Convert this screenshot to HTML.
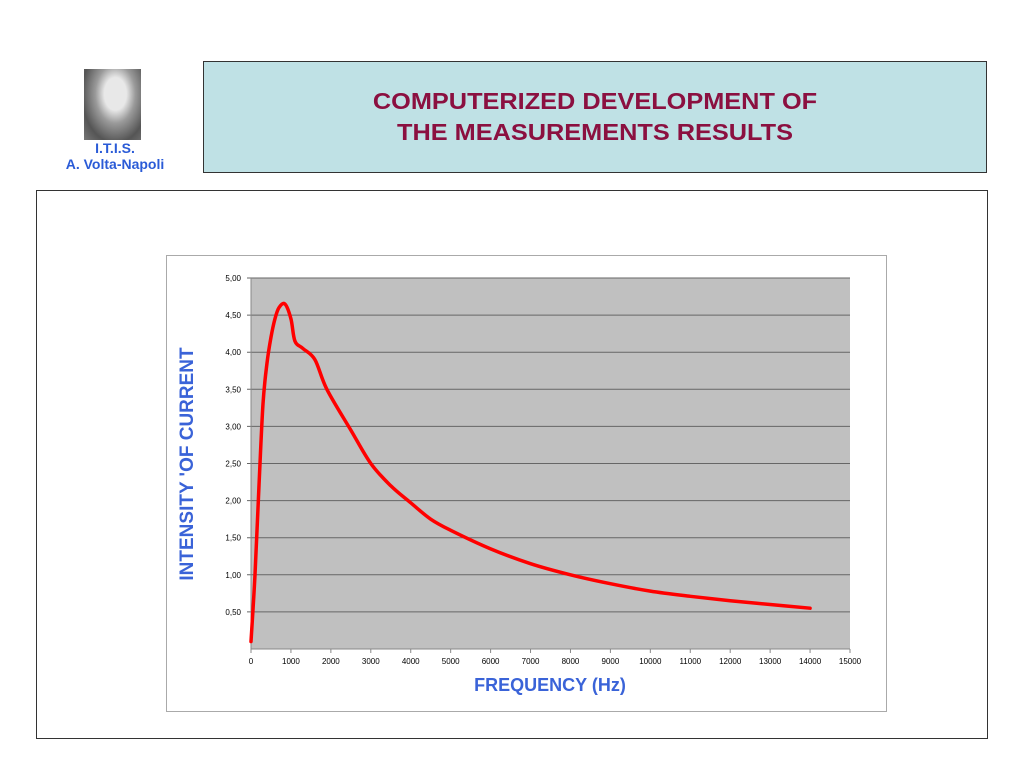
<!DOCTYPE html>
<html><head><meta charset="utf-8"><style>
body{margin:0;width:1024px;height:768px;background:#fff;position:relative;font-family:"Liberation Sans",Arial,sans-serif;overflow:hidden}
.abs{position:absolute}
</style></head><body>
<div class="abs" style="left:84px;top:69px;width:57px;height:71px;background:radial-gradient(ellipse at 55% 35%,#e8e8e8 0 25%,#9a9a9a 45%,#555 75%,#777 100%)"></div>
<div class="abs" style="left:55px;top:140px;width:120px;text-align:center;color:#2a5bd7;font-weight:bold;font-size:14px;line-height:16px">I.T.I.S.<br>A. Volta-Napoli</div>
<div class="abs" style="left:203px;top:61px;width:784px;height:112px;background:#bfe1e5;border:1px solid #333;box-sizing:border-box"></div>
<div class="abs" style="left:203px;top:86px;width:784px;text-align:center;color:#8b1040;font-weight:bold;font-size:23px;line-height:31px;transform:scaleX(1.1)">COMPUTERIZED DEVELOPMENT OF<br>THE MEASUREMENTS RESULTS</div>
<div class="abs" style="left:36px;top:190px;width:952px;height:549px;border:1px solid #333;box-sizing:border-box"></div>
<svg class="abs" style="left:0;top:0" width="1024" height="768" id="chart"></svg>
<script>
const xTicks=[0,1000,2000,3000,4000,5000,6000,7000,8000,9000,10000,11000,12000,13000,14000,15000];
const yTicks=[0.5,1,1.5,2,2.5,3,3.5,4,4.5,5];
const freq=[0,100,200,300,400,500,600,700,850,1000,1100,1300,1600,1900,2500,3000,3500,4000,4500,5000,6000,7000,8000,9000,10000,11000,12000,13000,14000];
const current=[0.1,1.0,2.2,3.3,3.85,4.2,4.45,4.6,4.65,4.45,4.15,4.05,3.9,3.5,2.95,2.5,2.2,1.97,1.75,1.6,1.35,1.15,1.0,0.88,0.78,0.71,0.65,0.6,0.55];
const NS='http://www.w3.org/2000/svg';
const svg=document.getElementById('chart');
const X0=251,X1=850,Y0=649,Y1=278;
const sx=v=>X0+(v-0)/15000*(X1-X0);
const sy=v=>Y0-v/5*(Y0-Y1);
function mk(t,a,p){const e=document.createElementNS(NS,t);for(const k in a)e.setAttribute(k,a[k]);(p||svg).appendChild(e);return e;}
const box=mk('rect',{x:166.5,y:255.5,width:720,height:456,fill:'#fff',stroke:'#aaa'});


const pa=mk('rect',{x:X0,y:Y1,width:X1-X0,height:Y0-Y1,fill:'#c0c0c0'});


yTicks.forEach(v=>{
 const g=mk('line',{x1:X0-4,x2:X1,y1:sy(v),y2:sy(v),stroke:'#666','stroke-width':1});
 
 
 const t=mk('text',{x:X0-10,y:sy(v)+3,'text-anchor':'end','font-size':8,fill:'#000'});
 t.textContent=v.toFixed(2).replace('.',',');
 
 
});
mk('line',{x1:X0,x2:X0,y1:Y1,y2:Y0,stroke:'#888'});
mk('line',{x1:X0,x2:X1,y1:Y0,y2:Y0,stroke:'#888'});
xTicks.forEach(v=>{
 mk('line',{x1:sx(v),x2:sx(v),y1:Y0,y2:Y0+4,stroke:'#888'});
 const t=mk('text',{x:sx(v),y:Y0+15,'text-anchor':'middle','font-size':8,fill:'#000'});
 t.textContent=v;
 
 
});
const P=freq.map((f,i)=>[sx(f),sy(current[i])]);
let d='M'+P[0][0]+','+P[0][1];
for(let i=0;i<P.length-1;i++){
 const p0=P[i-1]||P[i],p1=P[i],p2=P[i+1],p3=P[i+2]||p2;
 d+=' C'+(p1[0]+(p2[0]-p0[0])/6)+','+(p1[1]+(p2[1]-p0[1])/6)+' '+(p2[0]-(p3[0]-p1[0])/6)+','+(p2[1]-(p3[1]-p1[1])/6)+' '+p2[0]+','+p2[1];
}
const line=mk('path',{d:d,fill:'none',stroke:'#f00','stroke-width':3.5,'stroke-linejoin':'round','stroke-linecap':'round'});


const xt=mk('text',{x:550,y:691,'text-anchor':'middle','font-size':18,'font-weight':'bold',fill:'#3a63d8'});
xt.textContent='FREQUENCY (Hz)';


const yt=mk('text',{x:0,y:0,'text-anchor':'middle','font-size':19,'font-weight':'bold',fill:'#3a63d8',transform:'translate(193,464) rotate(-90)'});
yt.textContent="INTENSITY 'OF CURRENT";


</script>
</body></html>
